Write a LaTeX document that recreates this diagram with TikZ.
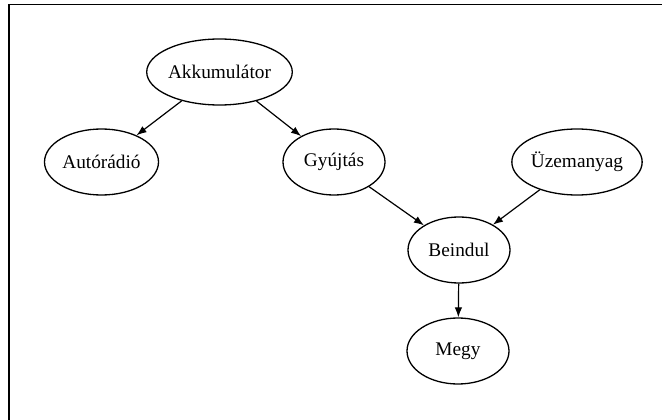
\documentclass[tikz,border=0pt]{standalone}
\usepackage{fontspec}
\setmainfont{Liberation Serif}
\usetikzlibrary{shapes.geometric,arrows.meta}
\begin{document}
\begin{tikzpicture}[x=1pt,y=-1pt,
  nodebox/.style={ellipse,draw,line width=1.3pt,inner sep=0pt,minimum height=66pt,
    font=\fontsize{19.3}{23}\selectfont},
  edge/.style={line width=1.2pt,-{Latex[length=10pt,width=7.5pt]}},
  frameline/.style={line width=1.6pt}]
\useasboundingbox (0,0) rectangle (662,420);
\coordinate (fbl) at (9,421);
\coordinate (ftl) at (9,4.5);
\coordinate (ftr) at (663,4.5);
\draw[frameline] (fbl) -- (ftl) -- (ftr);
\node[nodebox,minimum width=130pt] (akk) at (219.5,72) {Akkumulátor};
\node[nodebox,minimum width=114pt] (aut) at (101.5,162) {Autórádió};
\node[nodebox,minimum width=102pt] (gyu) at (334,162) {Gyújtás};
\node[nodebox,minimum width=122pt] (uze) at (577,162) {Üzemanyag};
\node[nodebox,minimum width=102pt] (bei) at (459,250) {Beindul};
\node[nodebox,minimum width=102pt] (meg) at (458,351) {Megy};
\draw[edge] (akk) -- (aut);
\draw[edge] (akk) -- (gyu);
\draw[edge] (gyu) -- (bei);
\draw[edge] (uze) -- (bei);
\draw[edge] (bei) -- (meg);
\end{tikzpicture}
\end{document}
